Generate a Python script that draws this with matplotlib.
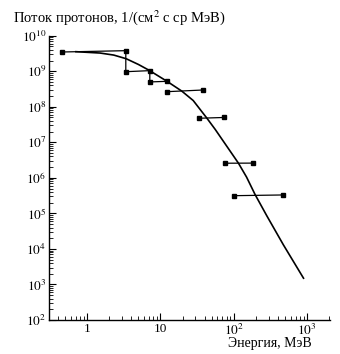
import matplotlib
matplotlib.use("Agg")
import matplotlib.pyplot as plt
from matplotlib.ticker import LogLocator, FixedLocator, FixedFormatter, NullFormatter

plt.rcParams['font.family'] = ['Liberation Serif', 'DejaVu Serif']
plt.rcParams['mathtext.fontset'] = 'stix'

# Smooth model curve (energy MeV, flux)
curve_energy = [0.7, 1.5, 2.3, 3.4, 5.0, 6.9, 12.3, 19.6, 28, 43, 56, 116, 150, 196, 284, 478, 900]
curve_flux = [3.55e9, 3.25e9, 2.85e9, 2.25e9, 1.55e9, 1.08e9, 5.2e8, 2.75e8, 1.5e8,
              4.8e7, 2.3e7, 2.6e6, 1.05e6, 3.4e5, 8.5e4, 1.3e4, 1.5e3]

# Connected step path of measured bins
step_energy = [0.453, 3.36, 3.36, 7.15, 7.15, 12.3]
step_flux = [3.48e9, 3.79e9, 9.7e8, 1.04e9, 5.0e8, 5.2e8]

# Separate horizontal bins: (E_low, E_high), (F at low end, F at high end)
bin_e_low = [12.3, 33.5, 76.6, 101.6]
bin_e_high = [38.7, 73.8, 183, 469]
bin_f_left = [2.66e8, 4.75e7, 2.58e6, 3.15e5]
bin_f_right = [2.97e8, 5.0e7, 2.6e6, 3.3e5]

x_ticks = [1, 10, 100, 1000]
x_labels = ['1', '10', r'$10^2$', r'$10^3$']
y_ticks = [10.0 ** k for k in range(2, 11)]
y_labels = [r'$10^{%d}$' % k for k in range(2, 11)]

fig = plt.figure(figsize=(3.4, 3.54), dpi=100)
ax = fig.add_axes([49 / 340, 1 - 320 / 354, (330 - 49) / 340, (320 - 35.7) / 354])

ax.set_xscale('log')
ax.set_yscale('log')
ax.set_xlim(0.3, 2070)
ax.set_ylim(1e2, 1e10)

ax.plot(curve_energy, curve_flux, color='black', lw=1.2, solid_joinstyle='round')
ax.plot(step_energy, step_flux, color='black', lw=0.9, marker='s', ms=3.2)
for el, eh, fl, fh in zip(bin_e_low, bin_e_high, bin_f_left, bin_f_right):
    ax.plot([el, eh], [fl, fh], color='black', lw=0.9, marker='s', ms=3.2)

for s in ['top', 'right']:
    ax.spines[s].set_visible(False)
for s in ['left', 'bottom']:
    ax.spines[s].set_linewidth(1.0)

ax.xaxis.set_major_locator(FixedLocator(x_ticks))
ax.xaxis.set_major_formatter(FixedFormatter(x_labels))
ax.xaxis.set_minor_locator(LogLocator(base=10, subs=range(2, 10), numticks=20))
ax.xaxis.set_minor_formatter(NullFormatter())
ax.yaxis.set_major_locator(FixedLocator(y_ticks))
ax.yaxis.set_major_formatter(FixedFormatter(y_labels))
ax.yaxis.set_minor_locator(LogLocator(base=10, subs=range(2, 10), numticks=20))
ax.yaxis.set_minor_formatter(NullFormatter())

ax.tick_params(which='major', direction='in', length=5, width=0.8, labelsize=9.5, pad=2)
ax.tick_params(which='minor', direction='in', length=3, width=0.6)

fig.text(13 / 340, 1 - 18 / 354, r'Поток протонов, 1/(см$^2$ с ср МэВ)', fontsize=10.5,
         ha='left', va='center')
fig.text(312 / 340, 1 - 344 / 354, 'Энергия, МэВ', fontsize=10, ha='right', va='center')

fig.savefig('out.png', dpi=100)
